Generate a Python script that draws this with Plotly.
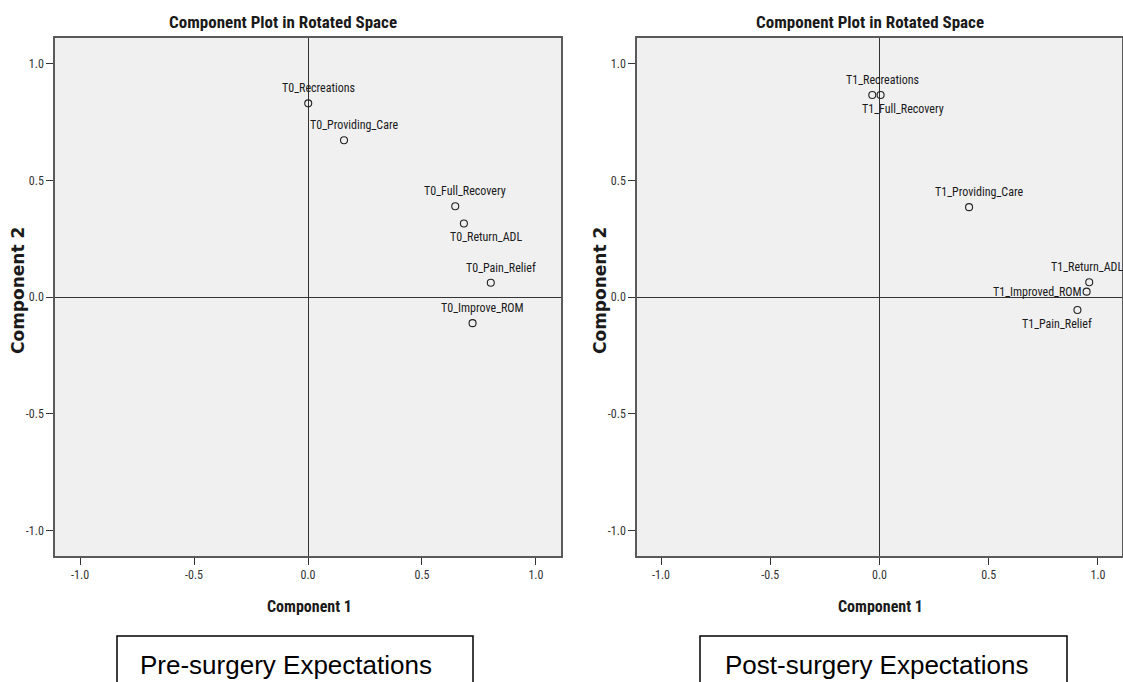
import plotly.graph_objects as go

# ---------------- data ----------------
pre_labels = ["T0_Recreations", "T0_Providing_Care", "T0_Full_Recovery",
              "T0_Return_ADL", "T0_Pain_Relief", "T0_Improve_ROM"]
pre_comp1 = [0.001, 0.158, 0.646, 0.684, 0.802, 0.722]
pre_comp2 = [0.830, 0.672, 0.389, 0.315, 0.061, -0.112]
pre_place = ["above", "above", "above", "below_r", "above", "above"]

post_labels = ["T1_Recreations", "T1_Full_Recovery", "T1_Providing_Care",
               "T1_Return_ADL", "T1_Improved_ROM", "T1_Pain_Relief"]
post_comp1 = [-0.033, 0.005, 0.410, 0.960, 0.948, 0.906]
post_comp2 = [0.866, 0.866, 0.385, 0.063, 0.023, -0.056]
post_place = ["above", "below_r", "above", "above_l", "left", "below_l"]

tick_vals = [-1.0, -0.5, 0.0, 0.5, 1.0]
tick_text = ["-1.0", "-0.5", "0.0", "0.5", "1.0"]

panel_title = "Component Plot in Rotated Space"
x_title = "Component 1"
y_title = "Component 2"
captions = ["Pre-surgery Expectations", "Post-surgery Expectations"]

# ---------------- layout geometry ----------------
W, H = 1123, 682
NARROW = "Liberation Sans Narrow, Arial Narrow, Roboto Condensed, Liberation Sans, sans-serif"
TXT = "#1a1a1a"

def px(v):
    return v / W

def py(v):
    return 1 - v / H

fig = go.Figure()

panels = [
    dict(xa="x", ya="y", dom=[px(55), px(561)], labels=pre_labels, c1=pre_comp1, c2=pre_comp2,
         place=pre_place, title_x=283, center=309, ytitle_x=18, cap_x=286, box=(117, 473)),
    dict(xa="x2", ya="y2", dom=[px(637), px(1122)], labels=post_labels, c1=post_comp1, c2=post_comp2,
         place=post_place, title_x=870, center=880, ytitle_x=600, cap_x=876, box=(700, 1067)),
]

shift = {
    "above": (10, 15, "center"),
    "below_r": (22, -14, "center"),
    "above_l": (-2, 15, "center"),
    "below_l": (-20, -14, "center"),
    "left": (-3, 0, "right"),
}

annotations = []
shapes = []
for i, p in enumerate(panels):
    fig.add_trace(go.Scatter(
        x=p["c1"], y=p["c2"], mode="markers", xaxis=p["xa"], yaxis=p["ya"],
        marker=dict(symbol="circle-open", size=7, color="#222222", line=dict(width=1.1)),
        showlegend=False, hoverinfo="text", text=p["labels"], cliponaxis=False,
    ))
    for lab, xv, yv, pl in zip(p["labels"], p["c1"], p["c2"], p["place"]):
        dx, dy, anc = shift[pl]
        annotations.append(dict(
            x=xv, y=yv, xref=p["xa"], yref=p["ya"], text=lab, showarrow=False,
            xshift=dx, yshift=dy, xanchor=anc, yanchor="middle",
            font=dict(family=NARROW, size=12, color=TXT),
        ))
    common = dict(xref="paper", yref="paper", showarrow=False, xanchor="center", yanchor="middle")
    annotations.append(dict(x=px(p["title_x"]), y=py(22), text="<b>" + panel_title + "</b>",
                            font=dict(family=NARROW, size=17, color=TXT), **common))
    annotations.append(dict(x=px(p["center"]), y=py(606), text="<b>" + x_title + "</b>",
                            font=dict(family=NARROW, size=16, color=TXT), **common))
    annotations.append(dict(x=px(p["ytitle_x"]), y=py(291), text="<b>" + y_title + "</b>", textangle=-90,
                            font=dict(family="DejaVu Sans, sans-serif", size=17, color=TXT), **common))
    annotations.append(dict(x=px(p["cap_x"]), y=py(665), text=captions[i],
                            font=dict(family="Liberation Sans, Arial, sans-serif", size=26, color="#000000"),
                            **common))
    bx0, bx1 = p["box"]
    shapes.append(dict(type="path", xref="paper", yref="paper",
                       path=f"M {px(bx0)} {py(700)} L {px(bx0)} {py(636)} L {px(bx1)} {py(636)} L {px(bx1)} {py(700)}",
                       line=dict(color="#000000", width=1.5)))

axis_common = dict(
    range=[-1.11, 1.11], tickvals=tick_vals, ticktext=tick_text, showgrid=False,
    zeroline=True, zerolinecolor="#333333", zerolinewidth=1.3,
    showline=True, mirror=True, linecolor="#5a5a5a", linewidth=1.5,
    ticks="outside", ticklen=7, tickcolor="#333333", tickwidth=1,
    tickfont=dict(family=NARROW, size=12, color="#333333"),
    fixedrange=True,
)
ydom = [py(556), py(38)]

fig.update_layout(
    width=W, height=H, autosize=False,
    margin=dict(l=0, r=0, t=0, b=0),
    paper_bgcolor="white", plot_bgcolor="#f0f0f0",
    xaxis=dict(domain=panels[0]["dom"], anchor="y", **axis_common),
    yaxis=dict(domain=ydom, anchor="x", **axis_common),
    xaxis2=dict(domain=panels[1]["dom"], anchor="y2", **axis_common),
    yaxis2=dict(domain=ydom, anchor="x2", **axis_common),
    annotations=annotations, shapes=shapes, showlegend=False,
)

fig.write_html("out.html")
